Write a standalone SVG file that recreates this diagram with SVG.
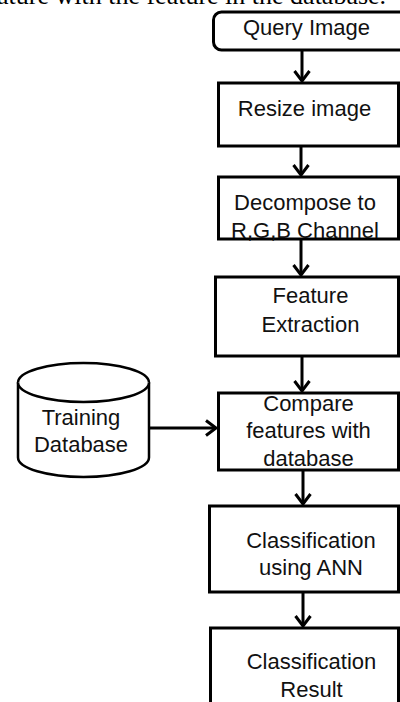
<svg xmlns="http://www.w3.org/2000/svg" width="400" height="702" viewBox="0 0 400 702">
<defs>
<style>
.box{fill:#fff;stroke:#000;stroke-width:3}
.cyl{fill:#fff;stroke:#000;stroke-width:2.5}
.lbl{font-family:"Liberation Sans",Arial,sans-serif;font-size:22px;fill:#111;text-anchor:middle}
.cap{font-family:"Liberation Serif","Times New Roman",serif;font-size:26px;fill:#000}
.conn{stroke:#000;stroke-width:3;fill:none;marker-end:url(#arr)}
</style>
<marker id="arr" markerUnits="userSpaceOnUse" markerWidth="20" markerHeight="20" refX="0" refY="0" viewBox="-12 -10 14 20" orient="auto">
<path d="M-10,-7.5 L0,0 L-10,7.5" fill="none" stroke="#000" stroke-width="3"/>
</marker>
</defs>
<rect width="400" height="702" fill="#fff"/>
<text class="cap" x="-3" y="4">ature with the feature in the database.</text>
<g id="connectors">
<line class="conn" x1="302" y1="50" x2="302" y2="81"/>
<line class="conn" x1="301" y1="146" x2="301" y2="175"/>
<line class="conn" x1="301" y1="239" x2="301" y2="275"/>
<line class="conn" x1="302" y1="356" x2="302" y2="391"/>
<line class="conn" x1="303" y1="470" x2="303" y2="504"/>
<line class="conn" x1="303" y1="592" x2="303" y2="626"/>
<line class="conn" x1="149" y1="428" x2="216" y2="428"/>
</g>
<g id="query">
<rect class="box" x="213.5" y="12" width="200" height="38" rx="8"/>
<text class="lbl" x="306.5" y="35">Query Image</text>
</g>
<g id="resize">
<rect class="box" x="218.5" y="83" width="180" height="63"/>
<text class="lbl" x="304.5" y="116">Resize image</text>
</g>
<g id="decompose">
<rect class="box" x="218.5" y="177" width="180" height="62"/>
<text class="lbl" x="305" y="210">Decompose to</text>
<text class="lbl" x="305" y="238">R,G,B Channel</text>
</g>
<g id="feature">
<rect class="box" x="215.5" y="277" width="183" height="79"/>
<text class="lbl" x="310.5" y="303">Feature</text>
<text class="lbl" x="310.5" y="332">Extraction</text>
</g>
<g id="compare">
<rect class="box" x="218.5" y="393" width="180" height="77"/>
<text class="lbl" x="308.5" y="411">Compare</text>
<text class="lbl" x="308.5" y="438">features with</text>
<text class="lbl" x="308.5" y="466">database</text>
</g>
<g id="training">
<path class="cyl" d="M18,382.5 A65.5,19.5 0 0 1 149,382.5 L149,457.5 A65.5,19.5 0 0 1 18,457.5 Z"/>
<path class="cyl" d="M18,382.5 A65.5,19.5 0 0 0 149,382.5" fill="none"/>
<text class="lbl" x="81" y="425">Training</text>
<text class="lbl" x="81" y="452">Database</text>
</g>
<g id="classify">
<rect class="box" x="209.5" y="506" width="189" height="86"/>
<text class="lbl" x="311" y="548">Classification</text>
<text class="lbl" x="311" y="575">using ANN</text>
</g>
<g id="result">
<rect class="box" x="210.5" y="628" width="188" height="90"/>
<text class="lbl" x="311.5" y="669">Classification</text>
<text class="lbl" x="311.5" y="697">Result</text>
</g>
</svg>
